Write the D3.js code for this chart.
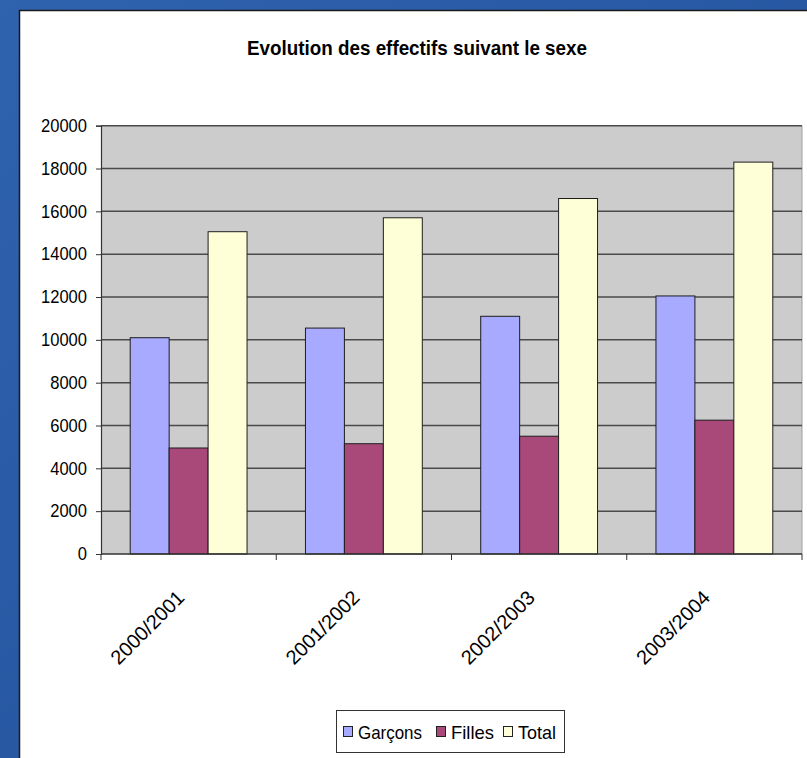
<!DOCTYPE html>
<html>
<head>
<meta charset="utf-8">
<script src="https://cdn.jsdelivr.net/npm/d3@7"></script>
<style>
  html, body { margin: 0; padding: 0; background: #2a5ca6; }
  svg { display: block; }
  text { font-family: "Liberation Sans", Arial, sans-serif; }
</style>
</head>
<body>
<svg id="chart" width="807" height="758"></svg>
<script>
const categories = ["2000/2001", "2001/2002", "2002/2003", "2003/2004"];
const seriesNames = ["Garçons", "Filles", "Total"];
const garcons = [10100, 10550, 11100, 12050];
const filles  = [4950, 5150, 5500, 6250];
const total   = [15050, 15700, 16600, 18300];
const yTicks = [0, 2000, 4000, 6000, 8000, 10000, 12000, 14000, 16000, 18000, 20000];
const colors = ["#a7aaff", "#a8497a", "#ffffd7"];
const title = "Evolution des effectifs suivant le sexe";

const seriesValues = [garcons, filles, total];
const rows = categories.map((c, i) => ({cat: c, vals: seriesNames.map((s, j) => ({name: s, value: seriesValues[j][i], color: colors[j]}))}));

const svg = d3.select("#chart");

const defs = svg.append("defs");
const g0 = defs.append("linearGradient").attr("id", "bg").attr("x1", 0).attr("y1", 0).attr("x2", 1).attr("y2", 1);
g0.append("stop").attr("offset", "0%").attr("stop-color", "#2f63ae");
g0.append("stop").attr("offset", "50%").attr("stop-color", "#2858a2");
g0.append("stop").attr("offset", "100%").attr("stop-color", "#2c5faa");
svg.append("rect").attr("width", 807).attr("height", 758).attr("fill", "url(#bg)");

svg.append("rect").attr("x", 19.5).attr("y", 10.5).attr("width", 800).attr("height", 760)
  .attr("fill", "#ffffff").attr("stroke", "#1a1a1a").attr("stroke-width", 1.5);

const plot = {left: 101, top: 125.7, right: 802, bottom: 554};

const x = d3.scaleBand().domain(categories).range([plot.left, plot.right]).paddingInner(0).paddingOuter(0);
const xInner = d3.scaleBand().domain(seriesNames).range([0, x.bandwidth()]).paddingInner(0).paddingOuter(0.75);
const y = d3.scaleLinear().domain([0, 20000]).range([plot.bottom, plot.top]);

svg.append("rect").attr("x", plot.left).attr("y", plot.top)
  .attr("width", plot.right - plot.left).attr("height", plot.bottom - plot.top)
  .attr("fill", "#cccccc");

svg.append("line").attr("x1", plot.right).attr("x2", plot.right).attr("y1", plot.top).attr("y2", plot.bottom)
  .attr("stroke", "#a0a0a0").attr("stroke-width", 1);

svg.append("g").selectAll("line").data(yTicks.filter(t => t > 0)).join("line")
  .attr("x1", plot.left).attr("x2", plot.right)
  .attr("y1", d => y(d)).attr("y2", d => y(d))
  .attr("stroke", "#4a4a4a").attr("stroke-width", 1.5);

const groups = svg.append("g").selectAll("g").data(rows).join("g")
  .attr("transform", d => `translate(${x(d.cat)},0)`);
groups.selectAll("rect").data(d => d.vals).join("rect")
  .attr("x", d => xInner(d.name))
  .attr("width", xInner.bandwidth())
  .attr("y", d => y(d.value))
  .attr("height", d => y(0) - y(d.value))
  .attr("fill", d => d.color)
  .attr("stroke", "#1e1e1e").attr("stroke-width", 1);

const yAxis = d3.axisLeft(y).tickValues(yTicks).tickSize(5).tickPadding(9).tickFormat(d3.format("d"));
const ya = svg.append("g").attr("transform", `translate(${plot.left},0)`).call(yAxis);
ya.select(".domain").attr("stroke", "#333").attr("stroke-width", 1.2);
ya.selectAll(".tick line").attr("stroke", "#333");
ya.selectAll("text").attr("font-size", 18).attr("fill", "#000").attr("font-family", "Liberation Sans, Arial, sans-serif")
  .attr("transform", "scale(0.92,1)").attr("x", -14 / 0.92);

svg.append("line").attr("x1", plot.left).attr("x2", plot.right).attr("y1", plot.bottom).attr("y2", plot.bottom)
  .attr("stroke", "#333").attr("stroke-width", 1.5);
const boundaries = categories.map(c => x(c)).concat([plot.right]);
svg.append("g").selectAll("line").data(boundaries).join("line")
  .attr("x1", d => d).attr("x2", d => d).attr("y1", plot.bottom).attr("y2", plot.bottom + 6)
  .attr("stroke", "#333").attr("stroke-width", 1);

svg.append("g").selectAll("text").data(categories).join("text")
  .attr("transform", d => `translate(${x(d) + x.bandwidth() / 2 - 3},${plot.bottom + 45}) rotate(-45)`)
  .attr("text-anchor", "end")
  .attr("font-size", 20)
  .attr("fill", "#000")
  .text(d => d);

svg.append("text").attr("x", 417).attr("y", 55).attr("text-anchor", "middle")
  .attr("font-size", 21).attr("font-weight", "bold").attr("fill", "#000")
  .attr("textLength", 340).attr("lengthAdjust", "spacingAndGlyphs")
  .text(title);

const lg = svg.append("g");
lg.append("rect").attr("x", 336.5).attr("y", 710.5).attr("width", 228).attr("height", 42)
  .attr("fill", "#fff").attr("stroke", "#333").attr("stroke-width", 1);
const legendX = [343, 436, 503];
const legendW = [64, 43, 38];
seriesNames.forEach((s, i) => {
  lg.append("rect").attr("x", legendX[i] + 0.5).attr("y", 726.5).attr("width", 9).attr("height", 10)
    .attr("fill", colors[i]).attr("stroke", "#222").attr("stroke-width", 1);
  lg.append("text").attr("x", legendX[i] + 15).attr("y", 739).attr("font-size", 19).attr("fill", "#000")
    .attr("textLength", legendW[i]).attr("lengthAdjust", "spacingAndGlyphs").text(s);
});
</script>
</body>
</html>
